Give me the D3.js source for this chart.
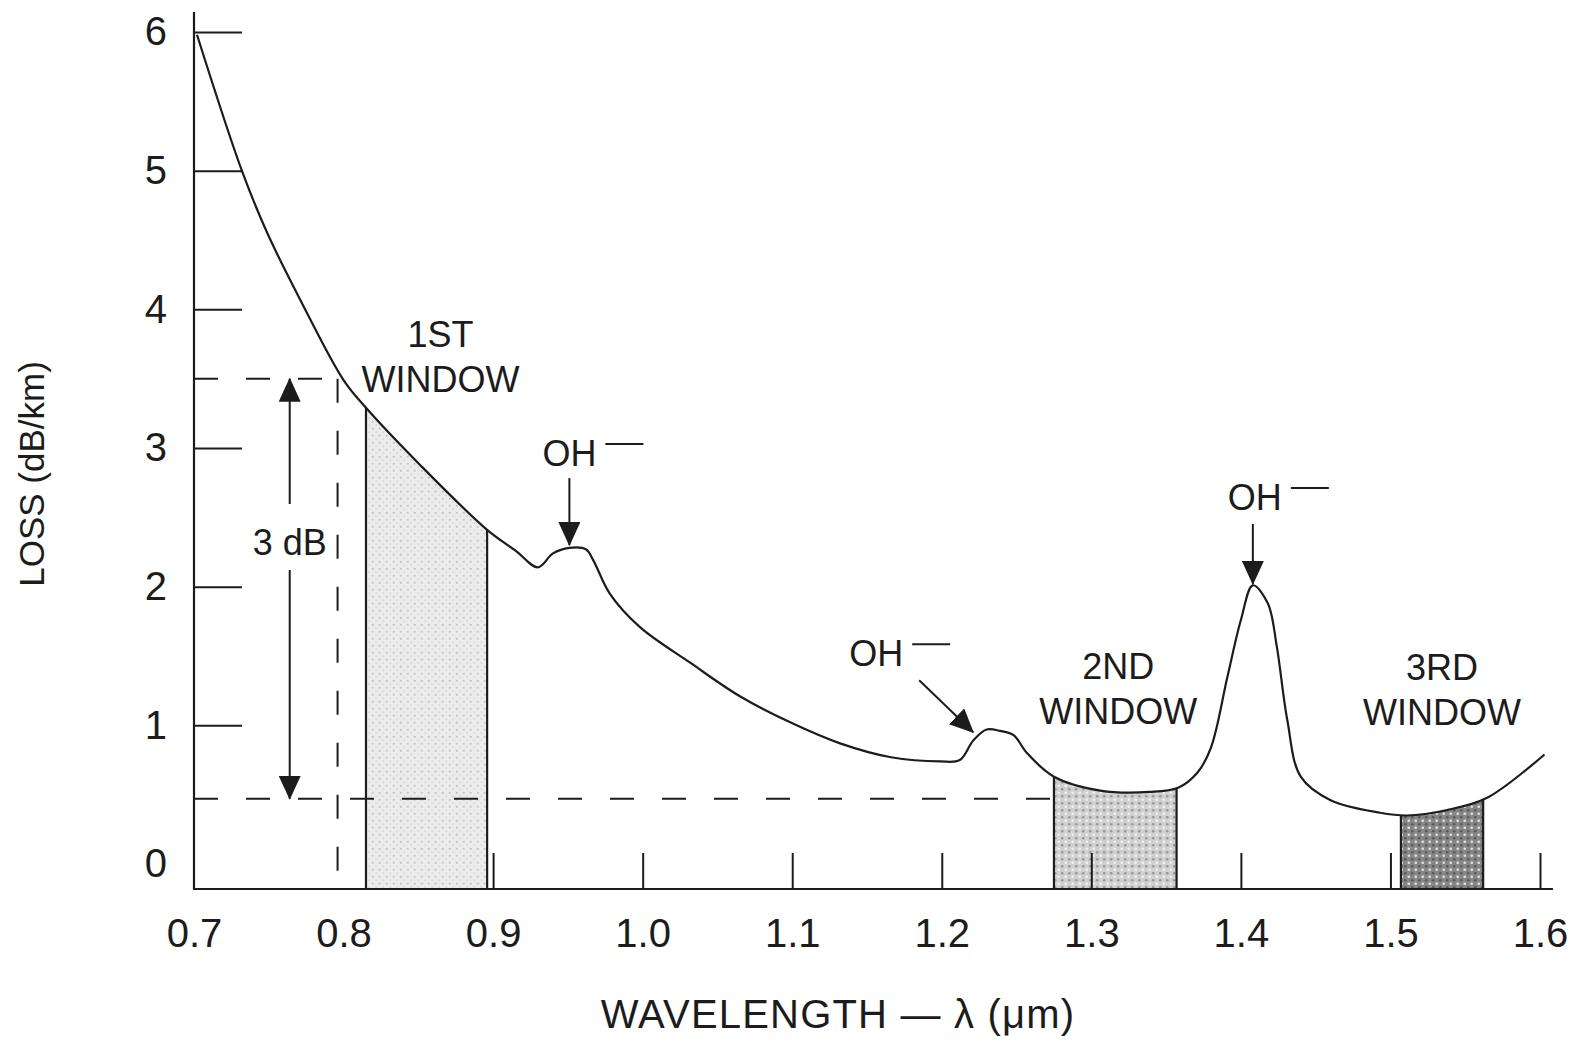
<!DOCTYPE html>
<html>
<head>
<meta charset="utf-8">
<script src="https://cdn.jsdelivr.net/npm/d3@7"></script>
<style>
body { margin: 0; background: #fff; }
svg { display: block; font-family: "Liberation Sans", Arial, sans-serif; }
</style>
</head>
<body>
<svg id="chart"></svg>
<script>
// loss curve (wavelength in um, loss in dB/km)
var wavelength = [0.702, 0.732, 0.749, 0.771, 0.800, 0.815, 0.851, 0.896, 0.915,
                  0.930, 0.940, 0.951, 0.962, 0.967, 0.978, 0.998, 1.032, 1.065, 1.099,
                  1.132, 1.166, 1.199, 1.212, 1.221, 1.230, 1.239, 1.248, 1.257, 1.275,
                  1.306, 1.339, 1.358, 1.371, 1.380, 1.391, 1.400, 1.408, 1.418, 1.424,
                  1.431, 1.440, 1.460, 1.493, 1.511, 1.538, 1.565, 1.603];
var loss = [5.98, 5.00, 4.55, 4.07, 3.49, 3.29, 2.88, 2.41, 2.26,
            2.14, 2.24, 2.28, 2.27, 2.19, 1.95, 1.71, 1.45, 1.21, 1.02,
            0.87, 0.77, 0.74, 0.75, 0.89, 0.97, 0.96, 0.93, 0.80, 0.63,
            0.53, 0.52, 0.55, 0.66, 0.84, 1.35, 1.76, 2.01, 1.88, 1.57,
            1.04, 0.63, 0.46, 0.37, 0.35, 0.39, 0.48, 0.79];

var windowTop = ["1ST", "2ND", "3RD"];
var windowStart = [0.815, 1.275, 1.507];
var windowEnd = [0.896, 1.357, 1.562];

var ohWavelength = [0.951, 1.221, 1.408];
var ohLoss = [2.30, 0.95, 2.02];

var xTicks = [0.7, 0.8, 0.9, 1.0, 1.1, 1.2, 1.3, 1.4, 1.5, 1.6];
var yTicks = [0, 1, 2, 3, 4, 5, 6];

// the 3 dB band marked at the left
var dbTop = 3.5;
var dbBottom = 0.47;
var dbLine = 0.796;
var dbArrow = 0.764;

var dimensions = {
    width: 1570,
    height: 1041,
    left: 194,
    right: 1540,
    top: 32,
    axisY: 889
}

var data = wavelength.map((w, i) => ({ x: w, y: loss[i] }));

var svg = d3.select("#chart")
    .attr("width", dimensions.width)
    .attr("height", dimensions.height);

var ink = "#1c1c1c";

var xScale = d3.scaleLinear()
    .domain([0.7, 1.6])
    .range([dimensions.left, dimensions.right]);

// zero sits a little above the drawn axis line
var yScale = d3.scaleLinear()
    .domain([-0.18, 6])
    .range([dimensions.axisY, dimensions.top]);

var defs = svg.append("defs");

// dotted screens for the three windows
var screens = [
    { bg: "#ececec", a: "#c2c2c2", b: "#d8d8d8", r: 1.1 },
    { bg: "#d0d0d0", a: "#f2f2f2", b: "#989898", r: 1.3 },
    { bg: "#868686", a: "#e2e2e2", b: "#585858", r: 1.3 }
];
screens.forEach((s, i) => {
    var p = defs.append("pattern")
        .attr("id", "screen" + i)
        .attr("patternUnits", "userSpaceOnUse")
        .attr("width", 7)
        .attr("height", 7);
    p.append("rect").attr("width", 7).attr("height", 7).attr("fill", s.bg);
    p.append("circle").attr("cx", 1.75).attr("cy", 1.75).attr("r", s.r).attr("fill", s.a);
    p.append("circle").attr("cx", 5.25).attr("cy", 5.25).attr("r", s.r).attr("fill", s.b);
});

defs.append("marker")
    .attr("id", "head")
    .attr("viewBox", "0 0 24 22")
    .attr("refX", 23)
    .attr("refY", 11)
    .attr("markerWidth", 24)
    .attr("markerHeight", 22)
    .attr("markerUnits", "userSpaceOnUse")
    .attr("orient", "auto-start-reverse")
    .append("path")
    .attr("d", "M0,0 L24,11 L0,22 Z")
    .attr("fill", ink);

var curve = d3.curveCatmullRom.alpha(0.5);

var area = d3.area()
    .x(d => xScale(d.x))
    .y0(dimensions.axisY)
    .y1(d => yScale(d.y))
    .curve(curve);

defs.append("clipPath")
    .attr("id", "under")
    .append("path")
    .attr("d", area(data));

// windows
var win = svg.append("g").attr("clip-path", "url(#under)");
windowStart.forEach((s, i) => {
    win.append("rect")
        .attr("x", xScale(s))
        .attr("y", 0)
        .attr("width", xScale(windowEnd[i]) - xScale(s))
        .attr("height", dimensions.axisY)
        .attr("fill", "url(#screen" + i + ")");
    [s, windowEnd[i]].forEach(edge => {
        win.append("line")
            .attr("x1", xScale(edge))
            .attr("x2", xScale(edge))
            .attr("y1", 0)
            .attr("y2", dimensions.axisY)
            .attr("stroke", ink)
            .attr("stroke-width", 2.2);
    });
});

// dashed 3 dB guides
var dashed = svg.append("g")
    .attr("stroke", ink)
    .attr("stroke-width", 2)
    .attr("stroke-dasharray", "24,28");
dashed.append("line")
    .attr("x1", xScale(0.7)).attr("x2", xScale(dbLine))
    .attr("y1", yScale(dbTop)).attr("y2", yScale(dbTop));
dashed.append("line")
    .attr("x1", xScale(dbLine)).attr("x2", xScale(dbLine))
    .attr("y1", yScale(dbTop)).attr("y2", dimensions.axisY);
dashed.append("line")
    .attr("x1", xScale(0.7)).attr("x2", xScale(windowStart[1]))
    .attr("y1", yScale(dbBottom)).attr("y2", yScale(dbBottom));

// the loss curve
svg.append("path")
    .datum(data)
    .attr("fill", "none")
    .attr("stroke", ink)
    .attr("stroke-width", 2.2)
    .attr("d", d3.line().x(d => xScale(d.x)).y(d => yScale(d.y)).curve(curve));

// x axis: ticks point up, none at 0.7 and 0.8
var xAxis = svg.append("g")
    .attr("transform", `translate(0,${dimensions.axisY})`)
    .call(d3.axisBottom(xScale)
        .tickValues(xTicks)
        .tickFormat(d3.format(".1f"))
        .tickSizeInner(-36)
        .tickSizeOuter(0)
        .tickPadding(30));
xAxis.select(".domain").remove();
xAxis.selectAll(".tick line")
    .attr("stroke", ink)
    .attr("stroke-width", 2)
    .filter(d => d < 0.85).remove();
xAxis.selectAll(".tick text")
    .attr("fill", ink)
    .style("font-size", "40px")
    .style("font-family", "inherit");
svg.append("line")
    .attr("x1", dimensions.left - 1).attr("x2", 1553)
    .attr("y1", dimensions.axisY).attr("y2", dimensions.axisY)
    .attr("stroke", ink).attr("stroke-width", 2.2);

// y axis: ticks point right, none at 0
var yAxis = svg.append("g")
    .attr("transform", `translate(${dimensions.left},0)`)
    .call(d3.axisLeft(yScale)
        .tickValues(yTicks)
        .tickFormat(d3.format("d"))
        .tickSizeInner(-48)
        .tickSizeOuter(0)
        .tickPadding(27));
yAxis.select(".domain").remove();
yAxis.selectAll(".tick line")
    .attr("stroke", ink)
    .attr("stroke-width", 2)
    .filter(d => d === 0).remove();
yAxis.selectAll(".tick text")
    .attr("fill", ink)
    .style("font-size", "40px")
    .style("font-family", "inherit");
svg.append("line")
    .attr("x1", dimensions.left).attr("x2", dimensions.left)
    .attr("y1", 12).attr("y2", dimensions.axisY + 1)
    .attr("stroke", ink).attr("stroke-width", 2.2);

// axis titles
svg.append("text")
    .attr("x", 838)
    .attr("y", 1028)
    .attr("text-anchor", "middle")
    .attr("fill", ink)
    .style("font-size", "40px")
    .style("letter-spacing", "1.2px")
    .text("WAVELENGTH — λ  (μm)");

svg.append("text")
    .attr("transform", "translate(44,474) rotate(-90)")
    .attr("text-anchor", "middle")
    .attr("fill", ink)
    .style("font-size", "35px")
    .text("LOSS (dB/km)");

// window labels
var labelShift = [14, 3, 0];
var labelBase = [347, 679, 680];
windowTop.forEach((t, i) => {
    var cx = (xScale(windowStart[i]) + xScale(windowEnd[i])) / 2 + labelShift[i];
    var g = svg.append("g")
        .attr("text-anchor", "middle")
        .attr("fill", ink)
        .style("font-size", "36px");
    g.append("text").attr("x", cx).attr("y", labelBase[i]).text(t);
    g.append("text").attr("x", cx).attr("y", labelBase[i] + 45).text("WINDOW");
});

// OH- absorption peaks
var ohLayout = [
    { dx: 0, dy: -79, tx: 0, ty: -67 },
    { dx: -97, dy: -66, tx: -54, ty: -52 },
    { dx: 2, dy: -74, tx: 0, ty: -60 }
];
ohWavelength.forEach((w, i) => {
    var px = xScale(w), py = yScale(ohLoss[i]);
    var o = ohLayout[i];
    var label = svg.append("text")
        .attr("x", px + o.dx)
        .attr("y", py + o.dy)
        .attr("text-anchor", "middle")
        .attr("fill", ink)
        .style("font-size", "36px")
        .text("OH");
    var half = label.node().getComputedTextLength() / 2;
    svg.append("line")
        .attr("x1", px + o.dx + half + 9)
        .attr("x2", px + o.dx + half + 47)
        .attr("y1", py + o.dy - 22)
        .attr("y2", py + o.dy - 22)
        .attr("stroke", ink)
        .attr("stroke-width", 2);
    svg.append("line")
        .attr("x1", px + o.tx)
        .attr("y1", py + o.ty)
        .attr("x2", px)
        .attr("y2", py)
        .attr("stroke", ink)
        .attr("stroke-width", 2)
        .attr("marker-end", "url(#head)");
});

// 3 dB arrow
var ax = xScale(dbArrow);
svg.append("line")
    .attr("x1", ax).attr("x2", ax)
    .attr("y1", yScale(dbTop)).attr("y2", yScale(dbBottom))
    .attr("stroke", ink)
    .attr("stroke-width", 2)
    .attr("marker-start", "url(#head)")
    .attr("marker-end", "url(#head)");
svg.append("rect")
    .attr("x", ax - 40).attr("y", 504)
    .attr("width", 80).attr("height", 66)
    .attr("fill", "#fff");
svg.append("text")
    .attr("x", ax)
    .attr("y", 555)
    .attr("text-anchor", "middle")
    .attr("fill", ink)
    .style("font-size", "36px")
    .text("3 dB");
</script>
</body>
</html>
